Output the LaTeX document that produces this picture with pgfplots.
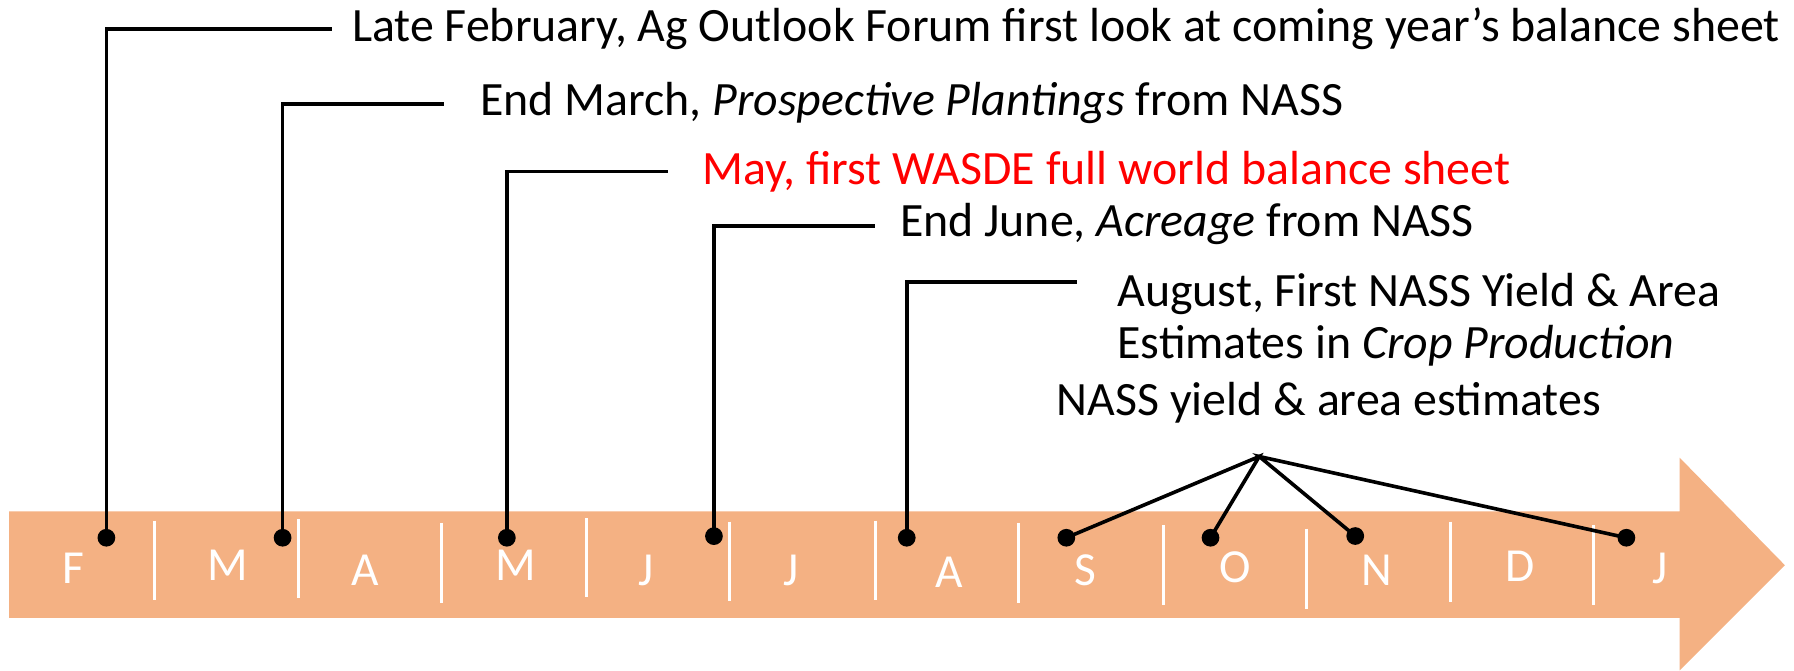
\documentclass[border=0pt]{standalone}
\usepackage{pgfplots}
\pgfplotsset{compat=1.18}
\usepackage{fontspec}
\setmainfont{Carlito}
\definecolor{arrowc}{HTML}{F4B183}
\begin{document}
\begin{tikzpicture}
\begin{axis}[width=15.68cm, height=5.86cm, scale only axis, xmin=0, xmax=1568, ymin=0, ymax=586, hide axis, clip=false]
\path (axis cs:0,0) rectangle (axis cs:1568,586);
% arrow
\addplot[fill=arrowc, draw=none] coordinates {(8,139) (1468,139) (1468,186) (1560,92) (1468,0) (1468,46) (8,46)} -- cycle;
% separators
\addplot[white, line width=0.75pt] coordinates {(135,131) (135,62)};
\addplot[white, line width=0.75pt] coordinates {(261,132) (261,63)};
\addplot[white, line width=0.75pt] coordinates {(386,129) (386,59)};
\addplot[white, line width=0.75pt] coordinates {(513,133) (513,64)};
\addplot[white, line width=0.75pt] coordinates {(638,130) (638,61)};
\addplot[white, line width=0.75pt] coordinates {(765,131) (765,62)};
\addplot[white, line width=0.75pt] coordinates {(890,129) (890,59)};
\addplot[white, line width=0.75pt] coordinates {(1017,127) (1017,57)};
\addplot[white, line width=0.75pt] coordinates {(1142,124) (1142,54)};
\addplot[white, line width=0.75pt] coordinates {(1268,130) (1268,60)};
\addplot[white, line width=0.75pt] coordinates {(1393,127) (1393,57)};
% month labels
\begin{scope}[every node/.style={text=white, font=\fontsize{11.8}{13}\selectfont, inner sep=0pt}]
\node at (axis cs:64,89) {F};
\node at (axis cs:199,91.5) {M};
\node at (axis cs:319,88) {A};
\node at (axis cs:451,91.5) {M};
\node at (axis cs:565,87) {J};
\node at (axis cs:691,87) {J};
\node at (axis cs:830,86) {A};
\node at (axis cs:948.6,88) {S};
\node at (axis cs:1080,90) {O};
\node at (axis cs:1203,88) {N};
\node at (axis cs:1329,91) {D};
\node at (axis cs:1451,89) {J};
\end{scope}
% connectors
\addplot[black, line width=0.9pt] coordinates {(93,116) (93,560.4) (290,560.4)};
\addplot[black, line width=0.9pt] coordinates {(247,116) (247,495) (388,495)};
\addplot[black, line width=0.9pt] coordinates {(443,116) (443,436) (584,436)};
\addplot[black, line width=0.9pt] coordinates {(624,117.4) (624,388.4) (765,388.4)};
\addplot[black, line width=0.9pt] coordinates {(792.5,116) (792.5,339.5) (941,339.5)};
\addplot[black, line width=0.9pt] coordinates {(932,116) (1100.6,187) (1058,116)};
\addplot[black, line width=0.9pt] coordinates {(1184.5,117.5) (1100.6,187) (1421.5,116)};
% dots
\addplot[only marks, mark=*, mark size=2pt, black] coordinates {(93,116) (247,116) (443,116) (624,117.4) (792.5,116) (932,116) (1058,116) (1184.5,117.5) (1421.5,116)};
% texts
\begin{scope}[every node/.style={anchor=west, font=\fontsize{11.9}{13}\selectfont, inner sep=0pt}]
\node at (axis cs:307,561) {Late February, Ag Outlook Forum first look at coming year’s balance sheet};
\node at (axis cs:419,496) {End March, \textit{Prospective Plantings} from NASS};
\node[text=red] at (axis cs:613,436) {May, first WASDE full world balance sheet};
\node at (axis cs:786,390) {End June, \textit{Acreage} from NASS};
\node at (axis cs:976,329) {August, First NASS Yield \& Area};
\node at (axis cs:976,284) {Estimates in \textit{Crop Production}};
\node at (axis cs:923,234) {NASS yield \& area estimates};
\end{scope}
\end{axis}
\end{tikzpicture}
\end{document}
